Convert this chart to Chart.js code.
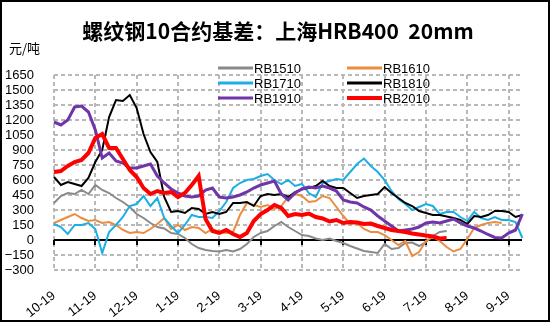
<!DOCTYPE html>
<html>
<head>
<meta charset="utf-8">
<script src="https://cdn.jsdelivr.net/npm/chart.js@4"></script>
<style>
  html, body { margin: 0; padding: 0; background: #fff; }
  #wrap { width: 550px; height: 322px; position: relative; }
</style>
</head>
<body>
<div id="wrap"><canvas id="basis"></canvas></div>
<script>
// 月份刻度（每月6个点）
const months = ["10-19", "11-19", "12-19", "1-19", "2-19", "3-19", "4-19", "5-19", "6-19", "7-19", "8-19", "9-19"];
const PER_MONTH = 6;
const N_POINTS = 69;

const seriesNames = ["RB1510", "RB1610", "RB1710", "RB1810", "RB1910", "RB2010"];
const seriesColors = ["#8a8a8a", "#eb8c3e", "#1eaee6", "#000000", "#7035a8", "#ff0000"];
const seriesWidths = [2, 2, 2, 2, 3, 4];

// 基差 元/吨
const rb1510 = [370, 440, 470, 460, 500, 460, 550, 500, 470, 420, 380, 330,
  260, 220, 170, 130, 115, 70, 60, 20, -40, -80, -100, -110,
  -115, -100, -115, -90, -40, 30, 70, 90, 140, 180, 130, 90,
  50, 40, 15, 0, 15, -10, -30, -60, -85, -110, -120, -130,
  -40, -90, -80, -30, -25, -60, -20, 40, 80, 90,
  null, null, null, null, null, null, null, null, null, null, null];
const rb1610 = [170, 200, 230, 260, 220, 190, 200, 170, 180, 150, 100, 70,
  80, 70, 110, 160, 220, 110, 150, 100, 130, 120, 70, 110,
  80, 70, 80, 250, 370, 350, 330, 350, 310, 340, 430, 460,
  440, 380, 390, 440, 420, 330, 240, 160, 170, 110, 80, 80,
  50, 0, -50, -10, -160, -120, -10, 30, -10, -70, -115, -90,
  10, 120, 150, 170, 180, 170, null, null, null];
const rb1710 = [160, 130, 60, 150, 150, 170, 110, -130, 80, 150, 230, 340,
  360, 440, 340, 420, 220, 140, 70, 150, 250, 230, 230, 220,
  290, 380, 520, 570, 600, 610, 640, 660, 600, 560, 600, 540,
  560, 470, 430, 570, 590, 610, 600, 680, 760, 815, 740, 680,
  600, 490, 410, 360, 300, 330, 360, 340, 260, 280, 280, 230,
  190, 280, 220, 200, 230, 200, 200, 180, 20];
const rb1810 = [630, 550, 580, 560, 540, 620, 780, 900, 1230, 1400, 1390, 1450,
  1320, 1060, 880, 780, 430, 280, 290, 270, 320, 310, 260, 280,
  260, 280, 370, 370, 380, 340, 440, 460, 450, 460, 430, 480,
  510, 520, 540, 590, 540, 520, 520, 470, 420, 440, 450, 460,
  530, 470, 420, 370, 340, 290, 270, 250, 250, 235, 220, 200,
  160, 240, 230, 250, 290, 290, 280, 230, 250];
const rb1910 = [1180, 1150, 1200, 1330, 1340, 1280, 1100, 820, 870, 790, 770, 720,
  720, 740, 760, 640, 570, 510, 470, 440, 430, 440, 500, 520,
  430, 420, 430, 450, 480, 520, 550, 570, 590, 460, 400, 470,
  510, 530, 520, 540, 520, 490, 400, 380, 370, 330, 300, 240,
  190, 140, 90, 100, 110, 130, 170, 180, 170, 190, 210, 170,
  140, 120, 90, 55, 25, 20, 70, 100, 260];
const rb2010 = [680, 690, 740, 780, 800, 870, 1020, 1060, 920, 920, 810, 700,
  630, 520, 460, 490, 470, 480, 430, 470, 550, 640, 210, 90,
  70, 100, 60, 30, 70, 190, 260, 300, 350, 320, 240, 260,
  250, 265, 230, 215, 185, 200, 170, 180, 175, 160, 165, 140,
  120, 100, 90, 80, 65, 55, 45, 35, 15, 20,
  null, null, null, null, null, null, null, null, null, null, null];

const seriesData = [rb1510, rb1610, rb1710, rb1810, rb1910, rb2010];

const labels = [];
for (let i = 0; i < N_POINTS; i++) {
  labels.push(i % PER_MONTH === 0 ? months[i / PER_MONTH] : "");
}

const latin = "'Liberation Sans', Arial, sans-serif";
const cjk = "'Noto Sans CJK SC', sans-serif";

// 虚线网格（2px 宽的浅灰短块）、零轴实线和月份小刻度
const gridAndZero = {
  id: "gridAndZero",
  beforeDatasetsDraw(chart) {
    const { ctx, chartArea, scales } = chart;
    const L = Math.round(chartArea.left), R = Math.round(chartArea.right);
    const T = Math.round(chartArea.top), B = Math.round(chartArea.bottom);
    ctx.save();
    ctx.fillStyle = "#b8b8b8";
    scales.y.ticks.forEach((t) => {
      if (t.value === 0) return;
      const y = Math.round(scales.y.getPixelForValue(t.value));
      for (let x = L; x < R; x += 7) ctx.fillRect(x, y - 1, Math.min(4, R - x), 2);
    });
    labels.forEach((lb, i) => {
      if (!lb) return;
      const x = Math.round(scales.x.getPixelForValue(i));
      for (let y = T; y < B; y += 7) ctx.fillRect(x - 1, y, 2, Math.min(4, B - y));
    });

    const y0 = Math.round(scales.y.getPixelForValue(0));
    ctx.fillStyle = "#000";
    ctx.fillRect(L, y0 - 1, R - L, 2);
    labels.forEach((lb, i) => {
      if (!lb) return;
      const x = Math.round(scales.x.getPixelForValue(i));
      ctx.fillRect(x - 1, y0, 2, 5);
    });
    ctx.restore();
  }
};

// 标题、单位、图例、外框
const decorations = {
  id: "decorations",
  afterDraw(chart) {
    const { ctx } = chart;
    ctx.save();
    ctx.fillStyle = "#000";
    ctx.textBaseline = "middle";
    ctx.textAlign = "center";
    ctx.font = "bold 21px " + cjk;
    ctx.fillText("螺纹钢10合约基差：上海HRB400  20mm", 278, 31);

    ctx.textAlign = "left";
    ctx.font = "13px " + cjk;
    ctx.fillText("元/吨", 9, 48);

    ctx.font = "13px " + latin;
    const colX = [218, 347];
    const rowY = [68, 83, 98];
    chart.data.datasets.forEach((ds, i) => {
      const x0 = colX[i % 2];
      const y = rowY[Math.floor(i / 2)];
      ctx.strokeStyle = ds.borderColor;
      ctx.lineWidth = i === 5 ? 4 : 3;
      ctx.beginPath();
      ctx.moveTo(x0, y);
      ctx.lineTo(x0 + 35, y);
      ctx.stroke();
      ctx.fillText(ds.label, x0 + 36, y + 1);
    });

    ctx.strokeStyle = "#000";
    ctx.lineWidth = 2;
    ctx.strokeRect(1, 1, chart.width - 2, chart.height - 2);
    ctx.restore();
  }
};

new Chart(document.getElementById("basis"), {
  type: "line",
  data: {
    labels: labels,
    datasets: seriesData.map((d, i) => ({
      label: seriesNames[i],
      data: d,
      borderColor: seriesColors[i],
      backgroundColor: seriesColors[i],
      borderWidth: seriesWidths[i],
      pointRadius: 0,
      tension: 0,
      fill: false,
      order: seriesNames.length - i
    }))
  },
  options: {
    responsive: true,
    maintainAspectRatio: false,
    animation: false,
    layout: { padding: { top: 75, left: 0, right: 23, bottom: 0 } },
    plugins: {
      legend: { display: false },
      tooltip: { enabled: false },
      title: { display: false }
    },
    scales: {
      x: {
        type: "category",
        afterFit: (s) => { s.height = 52; },
        border: { display: false },
        grid: { display: false, drawTicks: false },
        ticks: {
          autoSkip: false,
          minRotation: 38,
          maxRotation: 38,
          padding: 18,
          color: "#000",
          font: { size: 13, family: latin },
          callback: (v, i) => labels[i]
        }
      },
      y: {
        min: -300,
        max: 1650,
        afterFit: (s) => { s.width = 54; },
        border: { display: false },
        grid: { display: false, drawTicks: false },
        ticks: {
          stepSize: 150,
          autoSkip: false,
          padding: 20,
          color: "#000",
          font: { size: 13, family: latin },
          callback: (v) => v < 0 ? "\u2212" + Math.abs(v) : String(v)
        }
      }
    }
  },
  plugins: [gridAndZero, decorations]
});
</script>
</body>
</html>
